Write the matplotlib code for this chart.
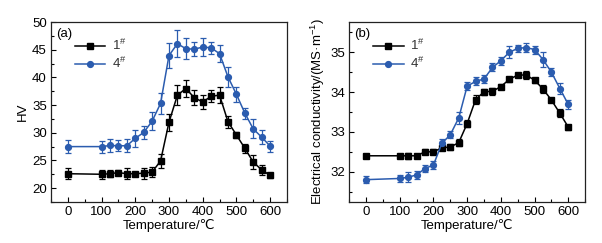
import matplotlib
matplotlib.use("Agg")
import matplotlib.pyplot as plt
from matplotlib.ticker import MultipleLocator
from matplotlib.lines import Line2D

plt.rcParams['font.family'] = ['Liberation Sans', 'DejaVu Sans']
plt.rcParams['mathtext.fontset'] = 'custom'
plt.rcParams['mathtext.rm'] = 'Liberation Sans'
plt.rcParams['mathtext.it'] = 'Liberation Sans:italic'

temps = [0, 100, 125, 150, 175, 200, 225, 250, 275, 300, 325, 350, 375, 400,
         425, 450, 475, 500, 525, 550, 575, 600]

hv_1 = [22.6, 22.5, 22.6, 22.8, 22.6, 22.6, 22.7, 22.9, 24.9, 31.9, 36.8, 38.0,
        36.35, 35.55, 36.6, 36.8, 32.0, 29.6, 27.2, 24.7, 23.3, 22.3]
hv_1_err = [1.0, 0.8, 0.6, 0.4, 1.0, 0.3, 1.0, 0.9, 1.2, 1.5, 1.8, 1.5, 1.3, 1.2,
            1.1, 1.4, 1.1, 0.6, 0.8, 1.3, 0.9, 0.4]
hv_4 = [27.5, 27.5, 27.7, 27.65, 27.65, 29.0, 30.05, 32.1, 35.3, 43.96, 46.1, 45.2,
        45.1, 45.5, 45.35, 44.3, 40.1, 36.95, 33.55, 30.7, 29.2, 27.6]
hv_4_err = [1.2, 1.1, 1.1, 1.0, 1.2, 1.5, 1.2, 1.6, 1.9, 2.3, 2.4, 1.9, 1.3, 1.6,
            1.1, 1.5, 1.8, 1.4, 1.0, 1.7, 1.3, 1.0]

ec_1 = [32.4, 32.4, 32.4, 32.4, 32.5, 32.5, 32.6, 32.62, 32.73, 33.21, 33.81, 34.01,
        34.02, 34.14, 34.32, 34.43, 34.43, 34.3, 34.08, 33.8, 33.47, 33.12]
ec_1_err = [0.05, 0.04, 0.08, 0.05, 0.06, 0.06, 0.05, 0.07, 0.09, 0.08, 0.12, 0.07,
            0.09, 0.06, 0.07, 0.05, 0.09, 0.06, 0.1, 0.06, 0.1, 0.06]
ec_4 = [31.8, 31.83, 31.86, 31.92, 32.08, 32.17, 32.71, 32.93, 33.35, 34.15, 34.27,
        34.33, 34.62, 34.79, 35.0, 35.1, 35.12, 35.07, 34.82, 34.5, 34.09, 33.69]
ec_4_err = [0.08, 0.08, 0.13, 0.1, 0.1, 0.1, 0.1, 0.09, 0.15, 0.1, 0.1, 0.1, 0.1,
            0.1, 0.15, 0.08, 0.12, 0.1, 0.18, 0.1, 0.13, 0.12]

labels = ['1$^{\\#}$', '4$^{\\#}$']
blue = '#2b5caf'
black = '#000000'
FS = 9.5

fig = plt.figure(figsize=(6.02, 2.43), dpi=100)
ax1 = fig.add_axes([0.0847, 0.169, 0.392, 0.74])
ax2 = fig.add_axes([0.580, 0.169, 0.392, 0.74])


def draw(ax, y1, e1, y4, e4, ylim, ymaj, ymin, ylabel, tag):
    ax.errorbar(temps, y1, yerr=e1, color=black, marker='s', ms=4, lw=1.1,
                capsize=2.5, elinewidth=0.9, capthick=0.9)
    ax.errorbar(temps, y4, yerr=e4, color=blue, marker='o', ms=4.2, lw=1.1,
                capsize=2.5, elinewidth=0.9, capthick=0.9)
    ax.set_xlim(-50, 650)
    ax.set_ylim(*ylim)
    ax.xaxis.set_major_locator(MultipleLocator(100))
    ax.xaxis.set_minor_locator(MultipleLocator(50))
    ax.yaxis.set_major_locator(MultipleLocator(ymaj))
    ax.yaxis.set_minor_locator(MultipleLocator(ymin))
    ax.tick_params(which='both', direction='in', top=False, right=False,
                   labelsize=FS, pad=3)
    ax.tick_params(which='major', length=3.5, width=0.8)
    ax.tick_params(which='minor', length=2, width=0.8)
    for s in ax.spines.values():
        s.set_linewidth(0.9)
        s.set_color('#222222')
    ax.set_xlabel('Temperature/℃', fontsize=FS, labelpad=1)
    ax.set_ylabel(ylabel, fontsize=FS, labelpad=2)
    ax.text(0.02, 0.965, tag, transform=ax.transAxes, fontsize=FS,
            ha='left', va='top')
    handles = [Line2D([], [], color=black, marker='s', ms=4, lw=1.1),
               Line2D([], [], color=blue, marker='o', ms=4.2, lw=1.1)]
    leg = ax.legend(handles, labels, loc='upper left', bbox_to_anchor=(0.08, 0.94),
                    frameon=False, fontsize=FS, handlelength=2.3, handletextpad=0.5,
                    labelspacing=0.2, borderaxespad=0.0)
    for t in leg.get_texts():
        t.set_color('#333333')


draw(ax1, hv_1, hv_1_err, hv_4, hv_4_err, (17.5, 50), 5, 2.5, 'HV', '(a)')
draw(ax2, ec_1, ec_1_err, ec_4, ec_4_err, (31.24, 35.76), 1, 0.5,
     'Electrical conductivity/(MS·m$^{-1}$)', '(b)')

fig.savefig('out.png', dpi=100)
